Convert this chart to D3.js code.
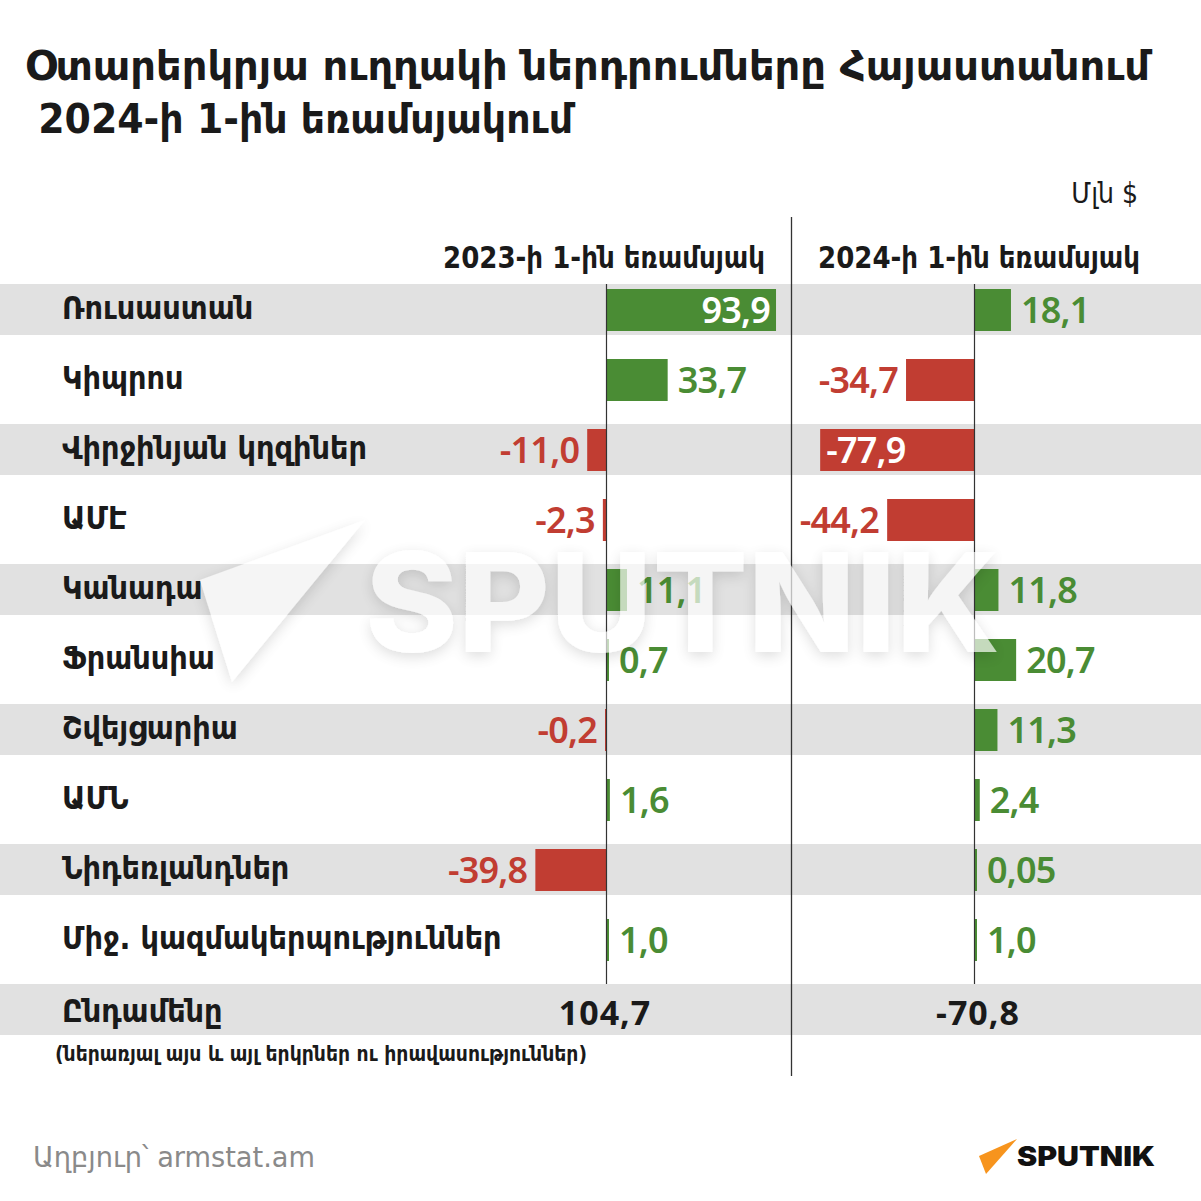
<!DOCTYPE html>
<html><head><meta charset="utf-8">
<script src="https://cdn.jsdelivr.net/npm/d3@7"></script>
<style>
html,body{margin:0;padding:0;background:#fff;}
svg{display:block;}
.arm{font-family:"DejaVu Sans Condensed","DejaVu Sans",sans-serif;font-stretch:condensed;}
.num{font-family:"Noto Sans","Open Sans",sans-serif;}
</style></head>
<body>
<svg id="chart" width="1201" height="1201"></svg>
<script>
// ---------- data ----------
const titleLines = ["Օտարերկրյա ուղղակի ներդրումները Հայաստանում", " 2024-ի 1-ին եռամսյակում"];
const unitLabel = "Մլն $";
const seriesNames = ["2023-ի 1-ին եռամսյակ", "2024-ի 1-ին եռամսյակ"];
const categories = ["Ռուսաստան","Կիպրոս","Վիրջինյան կղզիներ","ԱՄԷ","Կանադա","Ֆրանսիա","Շվեյցարիա","ԱՄՆ","Նիդեռլանդներ","Միջ. կազմակերպություններ"];
const q1_2023 = [93.9, 33.7, -11.0, -2.3, 11.1, 0.7, -0.2, 1.6, -39.8, 1.0];
const q1_2024 = [18.1, -34.7, -77.9, -44.2, 11.8, 20.7, 11.3, 2.4, 0.05, 1.0];
const totalLabel = "Ընդամենը";
const totals = [104.7, -70.8];
const footnote = "(ներառյալ այս և այլ երկրներ ու իրավասություններ)";
const sourceText = "Աղբյուր՝ armstat.am";

// ---------- setup ----------
const W = 1201, H = 1201;
const GREEN = "#4a8c34", RED = "#c13d32", BAND = "#e1e1e1", INK = "#1a1a1a";
const svg = d3.select("#chart");
svg.append("rect").attr("width", W).attr("height", H).attr("fill", "#fff");

const rowKeys = d3.range(categories.length + 1);
const y = d3.scaleBand().domain(rowKeys).range([274, 274 + 70 * rowKeys.length]).paddingInner(0);
const cy = i => y(i) + y.bandwidth() / 2;

const xL = d3.scaleLinear().domain([-100, 100]).range([607 - 180, 607 + 180]);
const xR = d3.scaleLinear().domain([-80, 80]).range([975 - 159, 975 + 159]);

const fmt = v => {
  const s = Math.abs(v) < 0.1 ? d3.format(".2f")(Math.abs(v)) : d3.format(".1f")(Math.abs(v));
  return (v < 0 ? "-" : "") + s.replace(".", ",");
};

// title
const title = svg.append("g").attr("class", "arm").attr("font-weight", "bold").attr("fill", INK);
title.append("text").attr("x", 25).attr("y", 80).attr("font-size", 40)
  .attr("textLength", 1125).attr("lengthAdjust", "spacingAndGlyphs").text(titleLines[0]);
title.append("text").attr("x", 25).attr("y", 133).attr("font-size", 40).attr("xml:space","preserve")
  .attr("textLength", 548).attr("lengthAdjust", "spacingAndGlyphs").text(titleLines[1]);

// unit
svg.append("text").attr("class", "arm").attr("x", 1138).attr("y", 203).attr("text-anchor", "end")
  .attr("font-size", 28).attr("fill", INK).text(unitLabel);

// series headers
svg.append("text").attr("class", "arm").attr("x", 765).attr("y", 268).attr("text-anchor", "end")
  .attr("font-size", 31).attr("font-weight", "bold").attr("fill", INK)
  .attr("textLength", 322).attr("lengthAdjust", "spacingAndGlyphs").text(seriesNames[0]);
svg.append("text").attr("class", "arm").attr("x", 818).attr("y", 268)
  .attr("font-size", 31).attr("font-weight", "bold").attr("fill", INK)
  .attr("textLength", 322).attr("lengthAdjust", "spacingAndGlyphs").text(seriesNames[1]);

// bands
svg.append("g").selectAll("rect").data(rowKeys.filter(i => i % 2 === 0)).join("rect")
  .attr("x", 0).attr("width", W).attr("y", i => cy(i) - 25).attr("height", 51).attr("fill", BAND);

// separator
svg.append("line").attr("x1", 791.5).attr("x2", 791.5).attr("y1", 217).attr("y2", 1076)
  .attr("stroke", "#333").attr("stroke-width", 1.3);

// row labels
svg.append("g").attr("class", "arm").attr("font-weight", "bold").attr("fill", INK).attr("font-size", 32)
  .selectAll("text").data(categories).join("text")
  .attr("x", 62).attr("y", (d, i) => cy(i) + 10).text(d => d);

// bars
function drawSeries(values, x) {
  const g = svg.append("g");
  const x0 = x(0);
  const barH = 42;
  g.selectAll("rect").data(values).join("rect")
    .attr("x", v => v >= 0 ? x0 : x0 - Math.max(2, x0 - x(v)))
    .attr("width", v => Math.max(2, Math.abs(x(v) - x0)))
    .attr("y", (v, i) => cy(i) - barH / 2 + 1)
    .attr("height", barH)
    .attr("fill", v => v >= 0 ? GREEN : RED);
  g.selectAll("text").data(values).join("text")
    .attr("class", "num").attr("font-size", 36).attr("font-weight", 600).attr("letter-spacing", -0.8)
    .each(function (v, i) {
      const w = Math.max(2, Math.abs(x(v) - x0));
      const t = d3.select(this).attr("y", cy(i) + 14).text(fmt(v));
      if (w > 120) {
        t.attr("fill", "#fff");
        if (v >= 0) t.attr("x", x0 + w - 6).attr("text-anchor", "end");
        else t.attr("x", x0 - w + 6).attr("text-anchor", "start");
      } else {
        t.attr("fill", v >= 0 ? GREEN : RED);
        if (v >= 0) t.attr("x", x0 + w + 10).attr("text-anchor", "start");
        else t.attr("x", x0 - w - 8).attr("text-anchor", "end");
      }
    });
  g.append("line").attr("x1", x0 - 0.5).attr("x2", x0 - 0.5).attr("y1", cy(0) - 25).attr("y2", cy(categories.length) - 25)
    .attr("stroke", "#333").attr("stroke-width", 1.2);
}
drawSeries(q1_2023, xL);
drawSeries(q1_2024, xR);

// total row
const ti = categories.length;
svg.append("text").attr("class", "arm").attr("font-weight", "bold").attr("font-size", 32).attr("fill", INK)
  .attr("x", 62).attr("y", cy(ti) + 13).text(totalLabel);
svg.append("g").selectAll("text").data(totals).join("text")
  .attr("class", "num").attr("font-weight", 700).attr("font-size", 34).attr("fill", INK).attr("letter-spacing", 1)
  .attr("text-anchor", "middle")
  .attr("x", (d, i) => i === 0 ? 605 : 978).attr("y", cy(ti) + 16).text(d => fmt(d));

// footnote
svg.append("text").attr("class", "arm").attr("font-weight", "bold").attr("font-size", 21).attr("fill", INK)
  .attr("x", 55).attr("y", 1061).attr("textLength", 532).attr("lengthAdjust", "spacingAndGlyphs").text(footnote);

// source
svg.append("text").attr("class", "arm").attr("font-size", 28).attr("fill", "#8a8a8a")
  .attr("x", 33).attr("y", 1167).attr("textLength", 282).attr("lengthAdjust", "spacingAndGlyphs").text(sourceText);

// logo
svg.append("path").attr("d", "M1017,1139 L979,1156 L986,1174 Z").attr("fill", "#f7941d");
svg.append("text").attr("x", 1017).attr("y", 1166).attr("font-family", "Inter, 'DejaVu Sans', sans-serif")
  .attr("font-weight", 900).attr("font-size", 27).attr("fill", "#111")
  .attr("textLength", 138).attr("lengthAdjust", "spacingAndGlyphs").text("SPUTNIK");

// watermark
const defs = svg.append("defs");
const f = defs.append("filter").attr("id", "wm").attr("x", "-20%").attr("y", "-30%").attr("width", "140%").attr("height", "160%");
f.append("feGaussianBlur").attr("in", "SourceAlpha").attr("stdDeviation", 7).attr("result", "b");
f.append("feOffset").attr("in", "b").attr("dx", 0).attr("dy", 4).attr("result", "o");
f.append("feFlood").attr("flood-color", "#000").attr("flood-opacity", 0.2);
f.append("feComposite").attr("in2", "o").attr("operator", "in").attr("result", "s");
const m = f.append("feMerge");
m.append("feMergeNode").attr("in", "s");
m.append("feMergeNode").attr("in", "SourceGraphic");
const wm = svg.append("g").attr("filter", "url(#wm)").attr("opacity", 0.68);
wm.append("path").attr("d", "M365,520 L200,580 L232,682 Z").attr("fill", "#fff");
wm.append("text").attr("x", 365).attr("y", 652).attr("font-family", "Inter, 'DejaVu Sans', sans-serif")
  .attr("font-weight", 800).attr("font-size", 138).attr("fill", "#fff")
  .attr("textLength", 635).attr("lengthAdjust", "spacingAndGlyphs").text("SPUTNIK");
</script>
</body></html>
